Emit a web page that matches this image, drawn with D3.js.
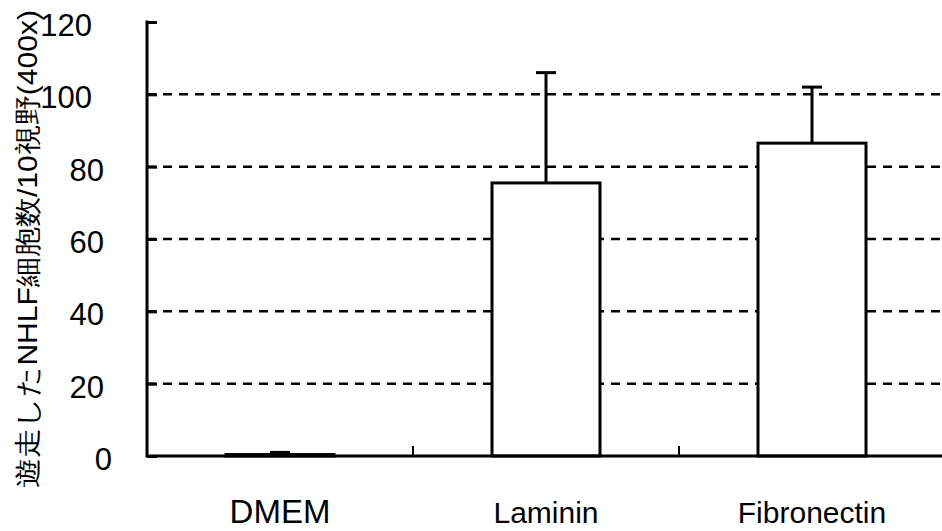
<!DOCTYPE html>
<html lang="ja">
  <head>
    <meta charset="UTF-8" />
    <script src="https://d3js.org/d3.v7.min.js"></script>
    <style>
      body { margin: 0; background: #fff; }
      text { font-family: "Liberation Sans", Arial, sans-serif; fill: #000; }
    </style>
  </head>
  <body>
    <script>
      // data
      const categories = ["DMEM", "Laminin", "Fibronectin"];
      const means = [0.4, 75.5, 86.5];
      const errors = [0.6, 30.5, 15.5];
      const yTicks = [0, 20, 40, 60, 80, 100, 120];
      const yTitle = "遊走したNHLF細胞数/10視野(400x)";

      const width = 942, height = 531;
      const plotLeft = 147, plotRight = 945, plotTop = 22, plotBottom = 456;

      let svg = d3.select("body").append("svg")
        .attr("width", width)
        .attr("height", height);

      let x = d3.scaleBand().domain(categories).range([plotLeft, plotRight]).padding(0);
      let y = d3.scaleLinear().domain([0, 120]).range([plotBottom, plotTop]);
      let barW = x.bandwidth() * 0.406;

      // dashed gridlines
      svg.append("g")
        .selectAll("line")
        .data(yTicks.filter(d => d > 0 && d < 120))
        .enter()
        .append("line")
        .attr("x1", plotLeft)
        .attr("x2", width)
        .attr("y1", d => y(d))
        .attr("y2", d => y(d))
        .attr("stroke", "#000")
        .attr("stroke-width", 2.5)
        .attr("stroke-dasharray", "9,7");

      // bars
      svg.append("g")
        .selectAll("rect")
        .data(categories)
        .enter()
        .append("rect")
        .attr("x", d => x(d) + x.bandwidth() / 2 - barW / 2)
        .attr("y", (d, i) => y(means[i]))
        .attr("width", barW)
        .attr("height", (d, i) => y(0) - y(means[i]))
        .attr("fill", "#fff")
        .attr("stroke", "#000")
        .attr("stroke-width", 3);

      // upper error bars
      let eb = svg.append("g").attr("stroke", "#000").attr("stroke-width", 3);
      categories.forEach((c, i) => {
        let cx = x(c) + x.bandwidth() / 2;
        eb.append("line")
          .attr("x1", cx).attr("x2", cx)
          .attr("y1", y(means[i])).attr("y2", y(means[i] + errors[i]));
        eb.append("line")
          .attr("x1", cx - 10).attr("x2", cx + 10)
          .attr("y1", y(means[i] + errors[i])).attr("y2", y(means[i] + errors[i]));
      });

      // y axis, ticks pointing inward
      let yAxis = svg.append("g")
        .attr("transform", `translate(${plotLeft},0)`)
        .call(d3.axisRight(y).tickValues(yTicks).tickSize(10).tickFormat(""));
      yAxis.select(".domain").remove();
      yAxis.selectAll("line").attr("stroke-width", 3);
      svg.append("line")
        .attr("x1", plotLeft).attr("x2", plotLeft)
        .attr("y1", y(120) - 1.5).attr("y2", y(0) + 1.5)
        .attr("stroke", "#000").attr("stroke-width", 3);

      // y tick labels (scan places them a little unevenly)
      const labelShift = { 120: -12, 100: -12, 0: 8 };
      svg.append("g")
        .selectAll("text")
        .data(yTicks)
        .enter()
        .append("text")
        .attr("x", d => 104 + (labelShift[d] || 0))
        .attr("y", d => y(d) + 3)
        .attr("dy", "0.36em")
        .attr("text-anchor", "end")
        .attr("font-size", 31)
        .text(d => d);

      // x axis
      svg.append("line")
        .attr("x1", plotLeft).attr("x2", width)
        .attr("y1", y(0)).attr("y2", y(0))
        .attr("stroke", "#000").attr("stroke-width", 3);
      svg.append("g")
        .selectAll("line")
        .data(categories.slice(1))
        .enter()
        .append("line")
        .attr("x1", d => x(d)).attr("x2", d => x(d))
        .attr("y1", y(0)).attr("y2", y(0) - 10)
        .attr("stroke", "#000").attr("stroke-width", 2);

      svg.append("g")
        .selectAll("text")
        .data(categories)
        .enter()
        .append("text")
        .attr("x", d => x(d) + x.bandwidth() / 2)
        .attr("y", 523)
        .attr("text-anchor", "middle")
        .attr("font-size", d => d === "DMEM" ? 33 : 30)
        .text(d => d);

      // y title
      svg.append("text")
        .attr("transform", "translate(37,249) rotate(-90)")
        .attr("text-anchor", "middle")
        .attr("font-family", "'Noto Sans CJK JP', sans-serif")
        .attr("font-size", 27)
        .attr("textLength", 478)
        .attr("lengthAdjust", "spacingAndGlyphs")
        .text(yTitle);
    </script>
  </body>
</html>
